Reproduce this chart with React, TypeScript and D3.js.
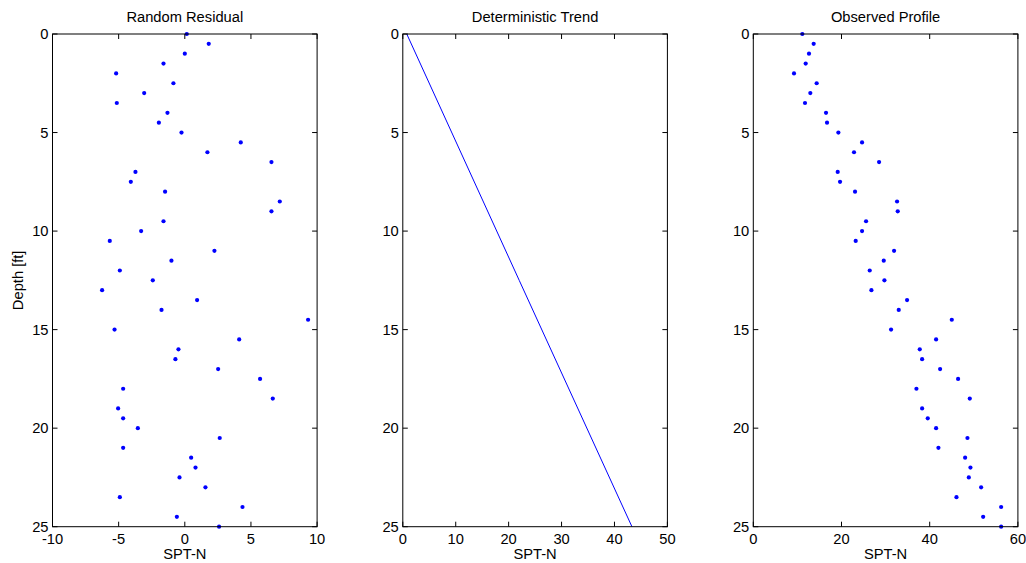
import React from "react";
import * as d3 from "d3";

const depths: number[] = Array.from({ length: 51 }, (_, i) => i * 0.5);

const residual: number[] = [
  0.15, 1.81, 0.0, -1.61, -5.19, -0.86, -3.07, -5.14, -1.31, -1.96,
  -0.25, 4.23, 1.71, 6.55, -3.73, -4.08, -1.49, 7.18, 6.55, -1.61,
  -3.3, -5.67, 2.24, -1.01, -4.91, -2.42, -6.25, 0.93, -1.76, 9.32,
  -5.31, 4.11, -0.48, -0.71, 2.52, 5.69, -4.66, 6.65, -5.04, -4.66,
  -3.55, 2.64, -4.66, 0.48, 0.81, -0.4, 1.56, -4.91, 4.36, -0.6, 2.59,
];

const observed: number[] = [
  11.12, 13.69, 12.63, 11.88, 9.23, 14.37, 12.93, 11.72, 16.49, 16.72,
  19.29, 24.66, 22.84, 28.52, 19.14, 19.67, 23.07, 32.6, 32.75, 25.57,
  24.66, 23.22, 31.92, 29.58, 26.4, 29.73, 26.78, 34.87, 32.98, 45.01,
  31.24, 41.45, 37.75, 38.28, 42.36, 46.44, 36.99, 49.09, 38.28, 39.56,
  41.45, 48.56, 41.98, 48.03, 49.24, 48.87, 51.66, 46.07, 56.2, 52.12, 56.2,
];

const trendDepths: number[] = [0, 12.5, 25];
const trendValues: number[] = [0.75, 22.0, 43.3];

const titles: string[] = ["Random Residual", "Deterministic Trend", "Observed Profile"];
const xDomains: [number, number][] = [[-10, 10], [0, 50], [0, 60]];
const xTicks: number[][] = [[-10, -5, 0, 5, 10], [0, 10, 20, 30, 40, 50], [0, 20, 40, 60]];
const yTicks: number[] = [0, 5, 10, 15, 20, 25];

const W = 1026;
const H = 563;
const panelLefts = [52.5, 402.8, 753.3];
const panelW = 264.6;
const top = 34;
const bottom = 526.7;
const FONT = "Arial, 'Liberation Sans', Helvetica, sans-serif";
const FS = 14.7;
const BLUE = "#0000ff";
const TICK = 5;

function Panel({ idx }: { idx: number }) {
  const x0 = panelLefts[idx];
  const x = d3.scaleLinear().domain(xDomains[idx]).range([x0, x0 + panelW]);
  const y = d3.scaleLinear().domain([0, 25]).range([top, bottom]);
  const x1 = x0 + panelW;

  let content: React.ReactNode = null;
  if (idx === 0 || idx === 2) {
    const vals = idx === 0 ? residual : observed;
    content = vals.map((v, i) => (
      <circle key={i} cx={x(v)} cy={y(depths[i])} r={2.1} fill={BLUE} />
    ));
  } else {
    const line = d3
      .line<number>()
      .x((v) => x(v))
      .y((_, i) => y(trendDepths[i]));
    content = <path d={line(trendValues) || ""} fill="none" stroke={BLUE} strokeWidth={1} />;
  }

  return (
    <g>
      <defs>
        <clipPath id={`clip${idx}`}>
          <rect x={x0 - 3} y={top - 3} width={panelW + 6} height={bottom - top + 6} />
        </clipPath>
      </defs>
      <g clipPath={`url(#clip${idx})`}>{content}</g>
      <rect x={x0} y={top} width={panelW} height={bottom - top} fill="none" stroke="#000" strokeWidth={1} />
      {xTicks[idx].map((t) => (
        <g key={`xt${t}`}>
          <line x1={x(t)} x2={x(t)} y1={bottom} y2={bottom - TICK} stroke="#000" />
          <line x1={x(t)} x2={x(t)} y1={top} y2={top + TICK} stroke="#000" />
          <text x={x(t)} y={bottom + 17} fontSize={FS} fontFamily={FONT} textAnchor="middle">
            {t}
          </text>
        </g>
      ))}
      {yTicks.map((t) => (
        <g key={`yt${t}`}>
          <line x1={x0} x2={x0 + TICK} y1={y(t)} y2={y(t)} stroke="#000" />
          <line x1={x1} x2={x1 - TICK} y1={y(t)} y2={y(t)} stroke="#000" />
          <text x={x0 - 4} y={y(t) + 5} fontSize={FS} fontFamily={FONT} textAnchor="end">
            {t}
          </text>
        </g>
      ))}
      <text x={x0 + panelW / 2} y={22} fontSize={FS} fontFamily={FONT} textAnchor="middle">
        {titles[idx]}
      </text>
      <text x={x0 + panelW / 2} y={558.5} fontSize={FS} fontFamily={FONT} textAnchor="middle">
        SPT-N
      </text>
    </g>
  );
}

export default function App() {
  return (
    <svg
      width={W}
      height={H}
      style={{ position: "absolute", left: 0, top: 0, display: "block", background: "#fff" }}
    >
      <rect x={0} y={0} width={W} height={H} fill="#fff" />
      {[0, 1, 2].map((i) => (
        <Panel key={i} idx={i} />
      ))}
      <text
        transform={`translate(23, ${(top + bottom) / 2}) rotate(-90)`}
        fontSize={FS}
        fontFamily={FONT}
        textAnchor="middle"
      >
        Depth [ft]
      </text>
    </svg>
  );
}
